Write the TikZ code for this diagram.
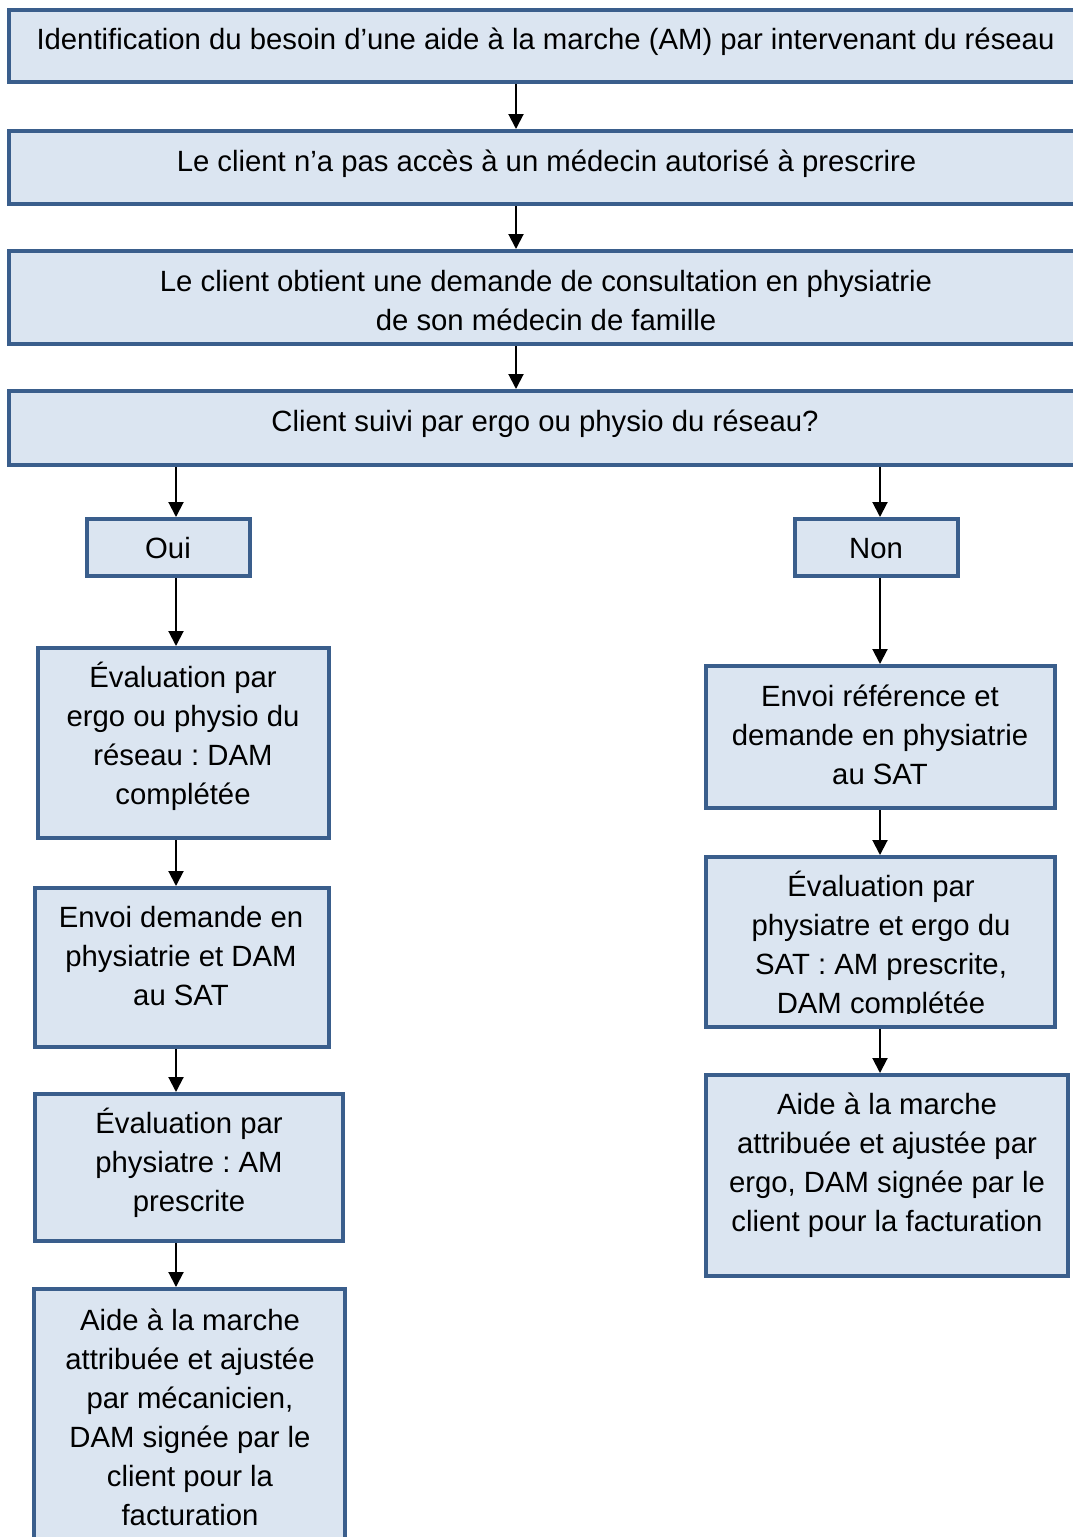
\documentclass[tikz,border=0pt]{standalone}
\usepackage{fontspec}
\setmainfont{Liberation Sans}
\usetikzlibrary{arrows.meta}
\frenchspacing
\definecolor{bordercol}{HTML}{3A5E8C}
\definecolor{fillcol}{HTML}{DBE5F1}
\tikzset{
  box/.style={draw=bordercol, fill=fillcol, line width=4pt, inner sep=0pt, outer sep=2pt, rectangle},
  txt/.style={inner sep=0pt, align=center, font=\fontsize{29.3}{39}\selectfont\frenchspacing},
  arr/.style={draw=black, line width=2pt, -{Triangle[length=15pt,width=15pt]}}
}
\begin{document}
\begin{tikzpicture}[x=1pt,y=-1pt]
\useasboundingbox (0,0) rectangle (1073,1537);
\clip (0,0) rectangle (1073,1537);
\coordinate (cM) at (516,0);
\coordinate (cL) at (176,0);
\coordinate (cR) at (880,0);
% top boxes
\node[box, minimum width=1074pt, minimum height=72pt] (b1) at (546,46) {};
\node[box, minimum width=1074pt, minimum height=73pt] (b2) at (546,167.5) {};
\node[box, minimum width=1074pt, minimum height=93pt] (b3) at (546,297.5) {};
\node[box, minimum width=1074pt, minimum height=74pt] (b4) at (546,428) {};
\node[box, minimum width=163pt, minimum height=57pt] (oui) at (168.5,547.5) {};
\node[box, minimum width=163pt, minimum height=57pt] (non) at (876.5,547.5) {};
% left column
\node[box, minimum width=291pt, minimum height=190pt] (l1) at (183.5,743) {};
\node[box, minimum width=294pt, minimum height=159pt] (l2) at (182,967.5) {};
\node[box, minimum width=308pt, minimum height=147pt] (l3) at (189,1167.5) {};
\node[box, minimum width=311pt, minimum height=254pt] (l4) at (189.5,1416) {};
% right column
\node[box, minimum width=349pt, minimum height=142pt] (r1) at (880.5,737) {};
\node[box, minimum width=349pt, minimum height=170pt] (r2) at (880.5,942) {};
\node[box, minimum width=362pt, minimum height=201pt] (r3) at (887,1175.5) {};
% texts
\node[txt] (t1) at (545.5,42) {Identification du besoin d’une aide à la marche (AM) par intervenant du réseau};
\node[txt] (t2) at (546.5,164) {Le client n’a pas accès à un médecin autorisé à prescrire};
\node[txt] (t3) at (546,301) {Le client obtient une demande de consultation en physiatrie\\de son médecin de famille};
\node[txt] (t4) at (545,424) {Client suivi par ergo ou physio du réseau?};
\node[txt] (toui) at (168,548.5) {Oui};
\node[txt] (tnon) at (876,549) {Non};
\node[txt] (tl1) at (183,736.5) {Évaluation par\\ergo ou physio du\\réseau : DAM\\complétée};
\node[txt] (tl2) at (181,956.5) {Envoi demande en\\physiatrie et DAM\\au SAT};
\node[txt] (tl3) at (189,1163) {Évaluation par\\physiatre : AM\\prescrite};
\node[txt] (tl4) at (190,1417) {Aide à la marche\\attribuée et ajustée\\par mécanicien,\\DAM signée par le\\client pour la\\facturation};
\node[txt] (tr1) at (880,735) {Envoi référence et\\demande en physiatrie\\au SAT};
\begin{scope}
\clip (704,855) rectangle (1057,1013);
\node[txt] (tr2) at (881,945.5) {Évaluation par\\physiatre et ergo du\\SAT : AM prescrite,\\DAM complétée};
\end{scope}
\node[txt] (tr3) at (887,1165.5) {Aide à la marche\\attribuée et ajustée par\\ergo, DAM signée par le\\client pour la facturation};
% connectors
\draw[arr] (b1.south -| cM) -- (b2.north -| cM);
\draw[arr] (b2.south -| cM) -- (b3.north -| cM);
\draw[arr] (b3.south -| cM) -- (b4.north -| cM);
\draw[arr] (b4.south -| cL) -- (oui.north -| cL);
\draw[arr] (b4.south -| cR) -- (non.north -| cR);
\draw[arr] (oui.south -| cL) -- (l1.north -| cL);
\draw[arr] (l1.south -| cL) -- (l2.north -| cL);
\draw[arr] (l2.south -| cL) -- (l3.north -| cL);
\draw[arr] (l3.south -| cL) -- (l4.north -| cL);
\draw[arr] (non.south -| cR) -- (r1.north -| cR);
\draw[arr] (r1.south -| cR) -- (r2.north -| cR);
\draw[arr] (r2.south -| cR) -- (r3.north -| cR);
\end{tikzpicture}
\end{document}
